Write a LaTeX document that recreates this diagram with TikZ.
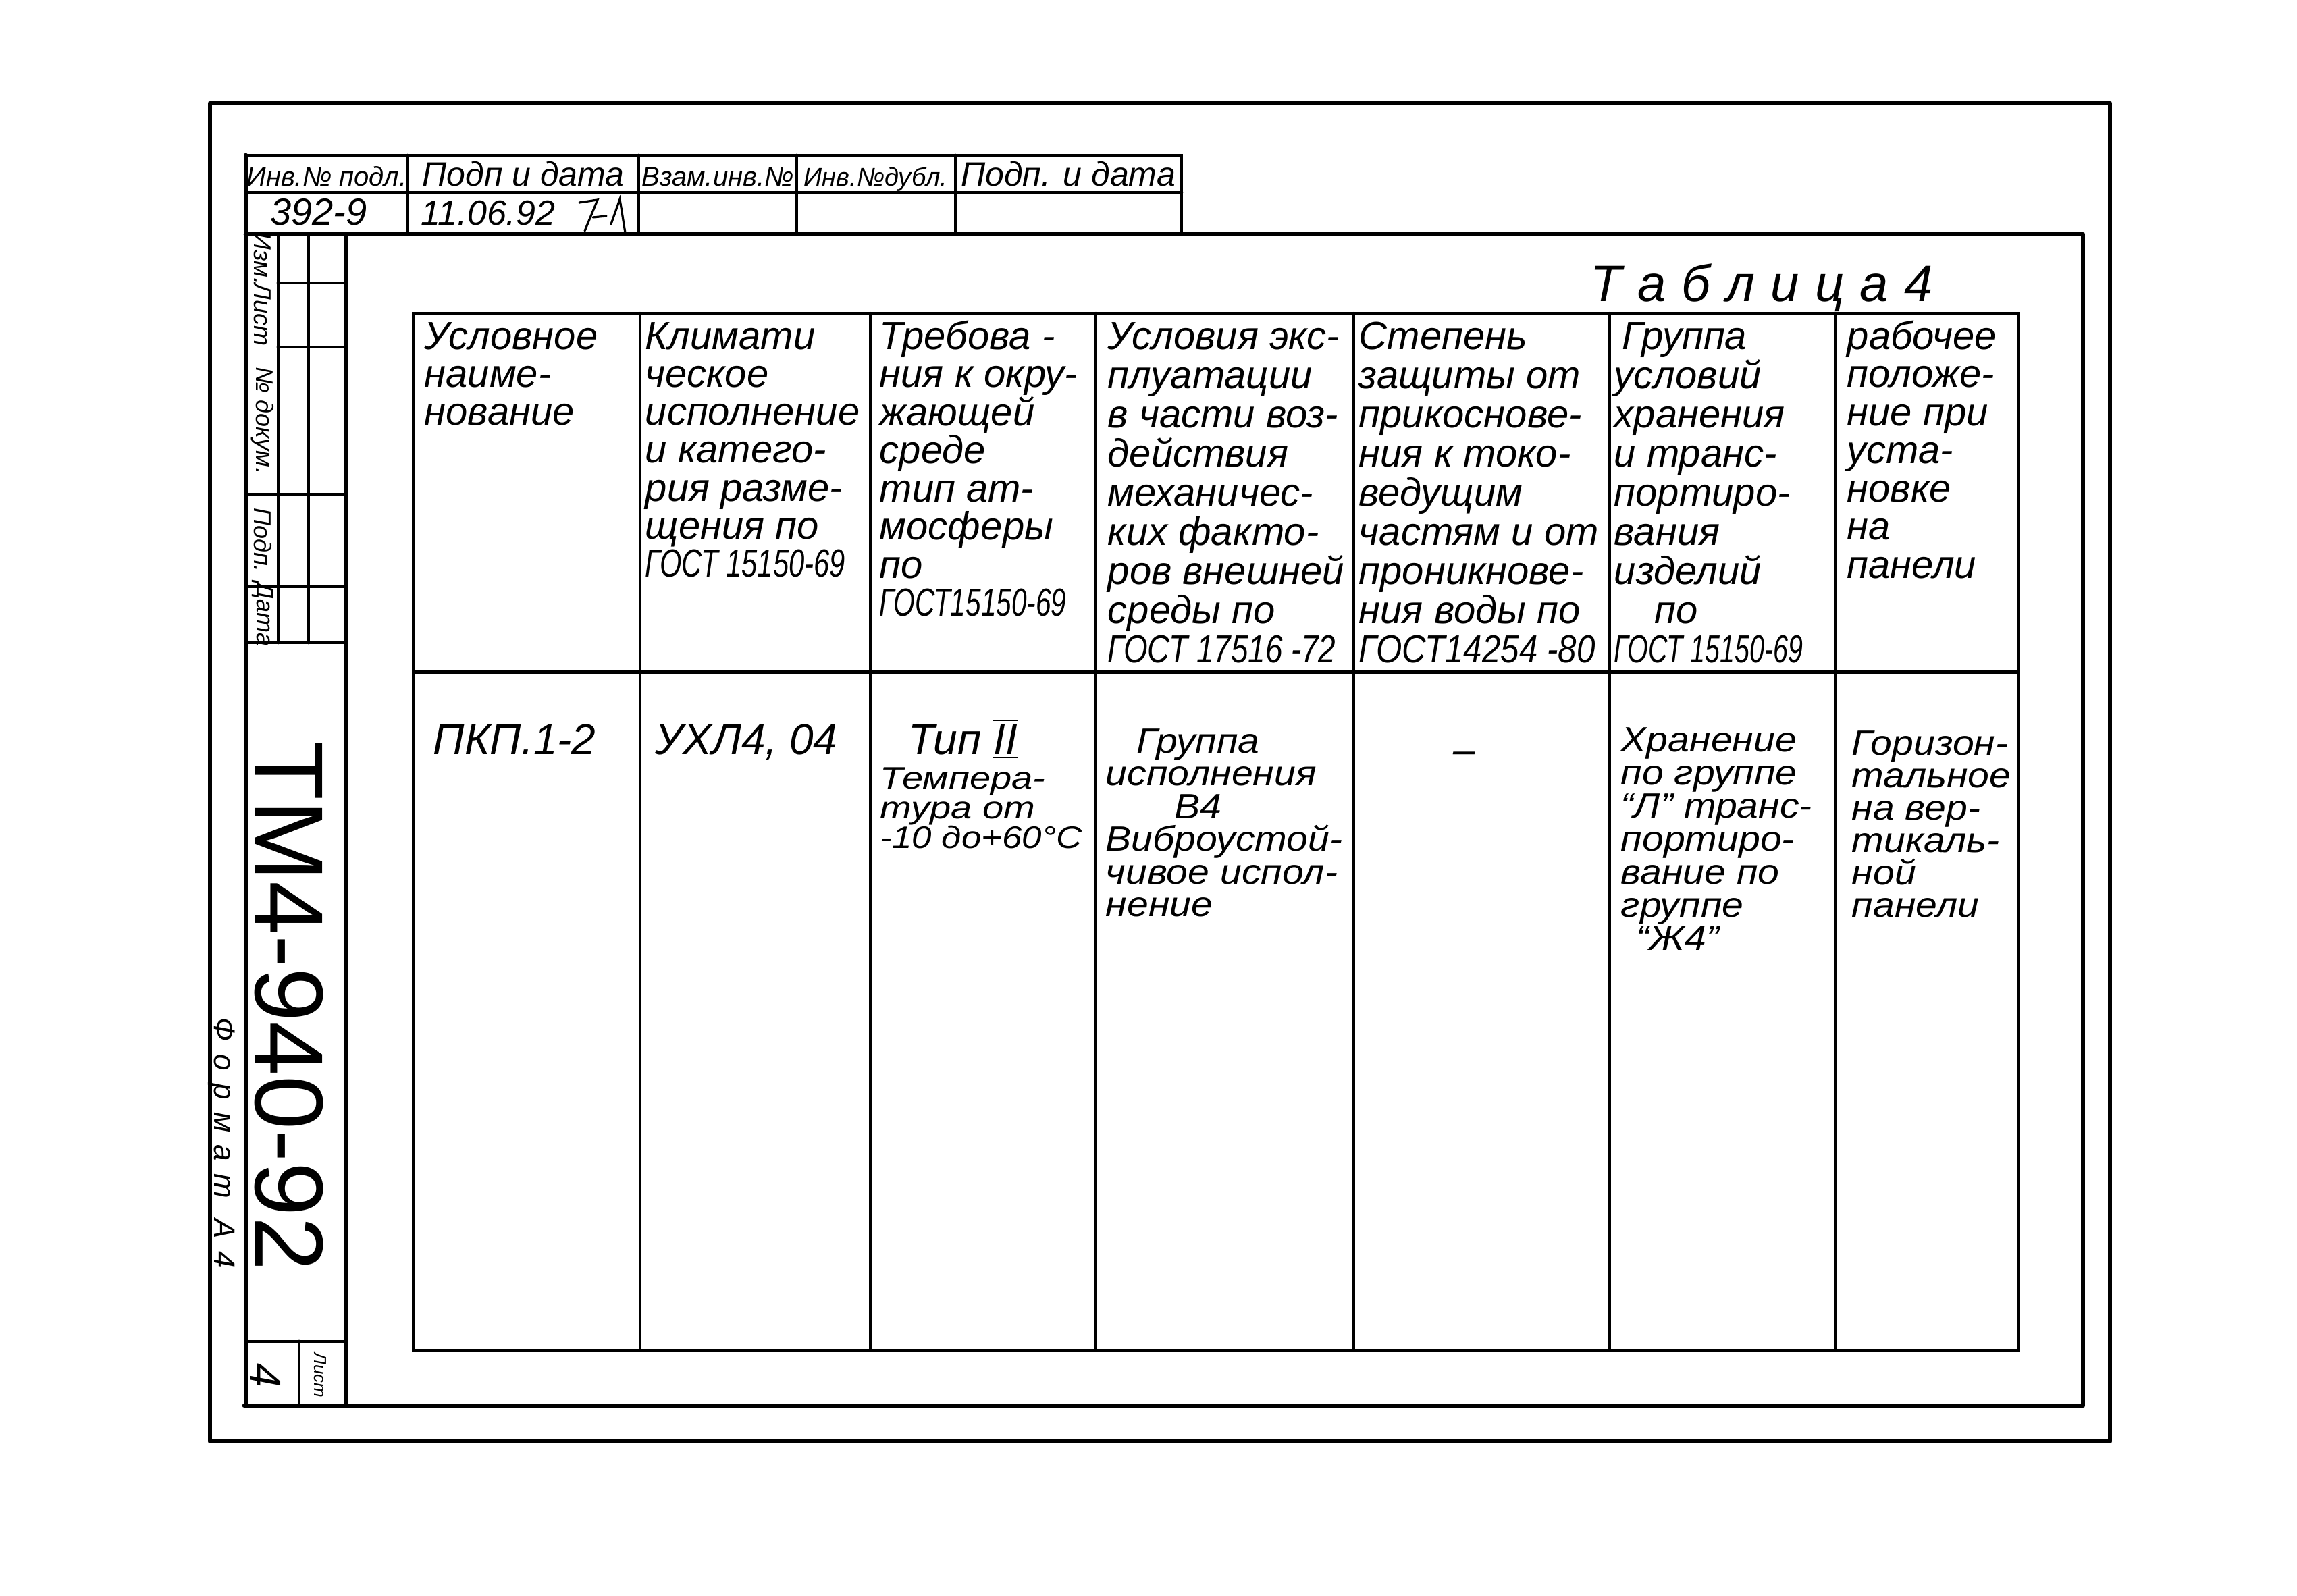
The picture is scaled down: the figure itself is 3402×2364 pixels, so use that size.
\documentclass[tikz,border=0pt]{standalone}
\usepackage{fontspec}
\setmainfont{Liberation Sans}
\usepackage{graphicx}
\newcommand\hfs{\fontsize{14.5pt}{14.5pt}\selectfont\itshape}
\newcommand\bdfs{\fontsize{13pt}{13pt}\selectfont\itshape}
\newcommand\smfs{\fontsize{11.5pt}{11.5pt}\selectfont\itshape}
\newcommand\bfs{\fontsize{16pt}{16pt}\selectfont\itshape}
\newcommand\nar[2]{\scalebox{#1}[1]{#2}}
\newcommand\bx[1]{\scalebox{1.1}[1]{#1}}
\begin{document}
\begin{tikzpicture}[x=0.25pt,y=-0.25pt,
  frame/.style={line width=1.7pt, line cap=round, line join=round},
  grid/.style={line width=1.1pt, line cap=round},
  thinline/.style={line width=1.2pt, line cap=round},
  txt/.style={font=\hfs, inner sep=0pt, anchor=base west},
  bod/.style={font=\bdfs, inner sep=0pt, anchor=base west},
  smbod/.style={font=\smfs, inner sep=0pt, anchor=base west},
  stamptxt/.style={inner sep=0pt, anchor=base},
  rot/.style={rotate=-90, inner sep=0pt, anchor=center}]
\useasboundingbox (0,0) rectangle (3402,2364);
\fill[white] (0,0) rectangle (3402,2364);

% outer frame
\draw[frame] (311,153) rectangle (3125,2135);
% inner frame
\draw[frame] (364,347) -- (3085,347) -- (3085,2082) -- (362,2082);
\draw[frame] (364,230) -- (364,2082);
\draw[frame] (513,347) -- (513,2082);

% top stamp
\draw[thinline] (364,230) -- (1750,230) -- (1750,347);
\draw[thinline] (364,285) -- (1750,285);
\foreach \x in {604,946,1180,1415} \draw[thinline] (\x,230) -- (\x,347);

% left strip
\draw[thinline] (412,347) -- (412,952);
\draw[thinline] (457,347) -- (457,952);
\draw[thinline] (412,419) -- (513,419);
\draw[thinline] (412,514) -- (513,514);
\draw[thinline] (364,732) -- (513,732);
\draw[thinline] (364,869) -- (513,869);
\draw[thinline] (364,952) -- (513,952);
\draw[thinline] (364,1987) -- (513,1987);
\draw[thinline] (443,1987) -- (443,2082);

% main table
\draw[grid] (612,464) rectangle (2990,2000);
\draw[line width=1.5pt] (612,995) -- (2990,995);
\foreach \x in {948,1289,1623,2005,2384,2718} \draw[grid] (\x,464) -- (\x,2000);

% stamp texts
\node[stamptxt, font=\fontsize{10pt}{10pt}\selectfont\itshape] (s1) at (484,276) {Инв.№ подл.};
\node[stamptxt, font=\fontsize{12.5pt}{12.5pt}\selectfont\itshape] (s2) at (775,276) {Подп и дата};
\node[stamptxt, font=\fontsize{10pt}{10pt}\selectfont\itshape] (s3) at (1063,276) {Взам.инв.№};
\node[stamptxt, font=\fontsize{9.5pt}{9.5pt}\selectfont\itshape] (s4) at (1297,276) {Инв.№дубл.};
\node[stamptxt, font=\fontsize{12.5pt}{12.5pt}\selectfont\itshape] (s5) at (1582,276) {Подп. и дата};
\node[stamptxt, font=\fontsize{14pt}{14pt}\selectfont\itshape] (v1) at (472,334) {392-9};
\node[stamptxt, font=\fontsize{13pt}{13pt}\selectfont\itshape] (v2) at (723,334) {11.06.92};
\draw[line width=0.8pt, line cap=round] (858,300) -- (885,296) -- (866,342);
\draw[line width=0.8pt, line cap=round] (878,322) -- (898,320);
\draw[line width=0.8pt, line cap=round] (905,332) -- (918,295) -- (926,345);

% strip labels
\node[rot, font=\fontsize{9pt}{9pt}\selectfont\itshape] (l1) at (389,383) {Изм.};
\node[rot, font=\fontsize{9pt}{9pt}\selectfont\itshape] (l2) at (389,466) {Лист};
\node[rot, font=\fontsize{9pt}{9pt}\selectfont\itshape] (l3) at (389,623) {№ докум.};
\node[rot, font=\fontsize{9pt}{9pt}\selectfont\itshape] (l4) at (389,800) {Подп.};
\node[rot, font=\fontsize{9pt}{9pt}\selectfont\itshape] (l5) at (389,910) {Дата};
\node[rot, font=\fontsize{36pt}{36pt}\selectfont] (code) at (428,1490) {ТМ4-940-92};
\node[rot, font=\fontsize{16pt}{16pt}\selectfont\itshape] (sheet) at (394,2037) {4};
\node[rot, font=\fontsize{6.5pt}{6.5pt}\selectfont\itshape] (sheetlbl) at (474,2037) {Лист};
\node[rot, font=\fontsize{11pt}{11pt}\selectfont\itshape] (fmt) at (328,1693)
  {Ф\kern4.6pt о\kern4.6pt р\kern4.6pt м\kern4.6pt а\kern4.6pt т\kern4.6pt\ А\kern4.6pt 4};

% title
\node[stamptxt, font=\fontsize{19pt}{19pt}\selectfont\itshape] (title) at (2609,447)
  {Т\kern5.8pt а\kern5.8pt б\kern5.8pt л\kern5.8pt и\kern5.8pt ц\kern5.8pt а\kern5.8pt 4};

% header texts
\foreach \t [count=\i from 0] in {Условное,наиме-,нование}
  \node[txt] (a\i) at (628,{517+56*\i}) {\t};
\foreach \t [count=\i from 0] in {Климати,ческое,исполнение,и катего-,рия разме-,щения по,\nar{0.72}{ГОСТ 15150-69}}
  \node[txt] (b\i) at (955,{517+56.3*\i}) {\t};
\foreach \t [count=\i from 0] in {Требова -,ния к окру-,жающей,среде,тип ат-,мосферы,по,\nar{0.70}{ГОСТ15150-69}}
  \node[txt] (c\i) at (1302,{517+56.5*\i}) {\t};
\foreach \t [count=\i from 0] in {Условия экс-,плуатации,в части воз-,действия,механичес-,ких факто-,ров внешней,среды по,\nar{0.79}{ГОСТ 17516 -72}}
  \node[txt] (d\i) at (1640,{517+58*\i}) {\t};
\foreach \t [count=\i from 0] in {Степень,защиты от,прикоснове-,ния к токо-,ведущим,частям и от,проникнове-,ния воды по,\nar{0.85}{ГОСТ14254 -80}}
  \node[txt] (e\i) at (2012,{517+58*\i}) {\t};
\foreach \t [count=\i from 0] in {\kern3pt Группа,условий,хранения,и транс-,портиро-,вания,изделий,\kern15pt по,\nar{0.68}{ГОСТ 15150-69}}
  \node[txt] (f\i) at (2390,{517+58*\i}) {\t};
\foreach \t [count=\i from 0] in {рабочее,положе-,ние при,уста-,новке,на,панели}
  \node[txt] (g\i) at (2735,{517+56.5*\i}) {\t};

% body texts
\node[txt, font=\bfs] (ba) at (641,1117) {ПКП.1-2};
\node[txt, font=\bfs] (bb) at (970,1117) {УХЛ4, 04};
\node[txt, font=\bfs] (bc0) at (1345,1117) {Тип $\overline{\underline{\mbox{II}}}$};
\node[smbod] (bc1) at (1303,1168) {\scalebox{1.22}[1]{Темпера-}};
\node[smbod] (bc2) at (1303,1212) {\scalebox{1.22}[1]{тура от}};
\node[smbod] (bc3) at (1303,1256) {\scalebox{1.15}[1]{-10 до+60°С}};
\foreach \x/\y/\t [count=\i] in {1683/1115/Группа,1637/1163/исполнения,1739/1212/В4,1637/1260/Виброустой-,1637/1309/чивое испол-,1637/1357/нение}
  \node[bod] (bd\i) at (\x,\y) {\bx{\t}};
\node[font=\hfs, inner sep=0pt, anchor=base] (be) at (2169,1130) {–};
\foreach \x/\y/\t [count=\i] in {2400/1113/Хранение,2400/1162/по группе,2400/1211/“Л” транс-,2400/1260/портиро-,2400/1309/вание по,2400/1358/группе,2423/1407/“Ж4”}
  \node[bod] (bf\i) at (\x,\y) {\bx{\t}};
\foreach \t [count=\i from 0] in {Горизон-,тальное,на вер-,тикаль-,ной,панели}
  \node[bod] (bg\i) at (2742,{1118+48*\i}) {\bx{\t}};
\end{tikzpicture}
\end{document}
